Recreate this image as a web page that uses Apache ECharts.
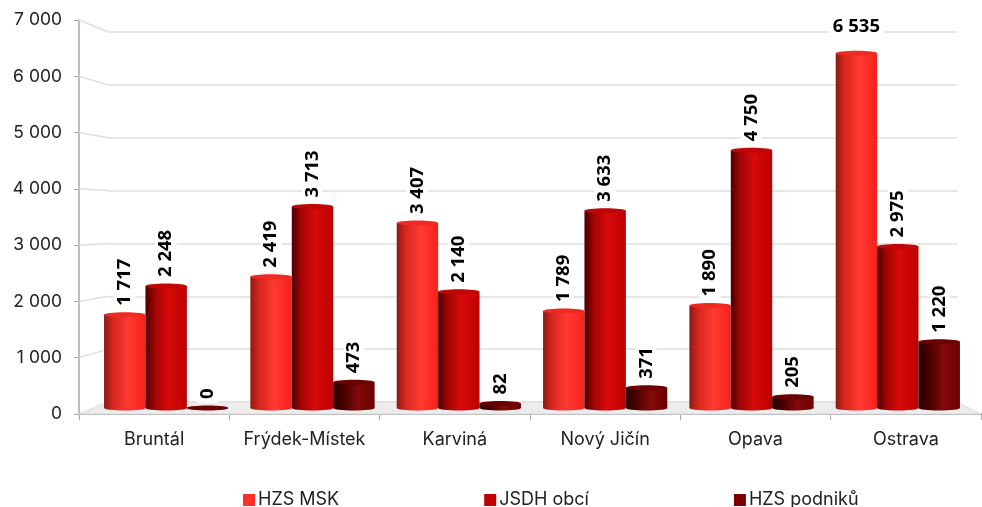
<!DOCTYPE html>
<html><head><meta charset="utf-8">
<style>html,body{margin:0;padding:0;background:#fff}#c{width:982px;height:507px}</style>
<script src="https://cdn.jsdelivr.net/npm/echarts@6/dist/echarts.min.js"></script>
</head><body><div id="c"></div>
<script>
const categories = ['Bruntál','Frýdek-Místek','Karviná','Nový Jičín','Opava','Ostrava'];
const hzsMsk = [1717,2419,3407,1789,1890,6535];
const jsdhObci = [2248,3713,2140,3633,4750,2975];
const hzsPodniku = [0,473,82,371,205,1220];
const yTicks = [0,1000,2000,3000,4000,5000,6000,7000];
const seriesNames = ['HZS MSK','JSDH obcí','HZS podniků'];
const legendColors = ['#ff3028','#c00000','#7a0000'];
const capColors = ['#f02a22','#c00606','#6a0202'];
const FONT = 'Inter, "Open Sans", sans-serif';
const BOLD = '"Open Sans", Inter, sans-serif';
const fmt = v => String(v).replace(/\B(?=(\d{3})+$)/g,' ');
const grad = stops => ({type:'linear',x:0,y:0,x2:1,y2:0,colorStops:stops.map(s=>({offset:s[0],color:s[1]}))});
const grads = [
  grad([[0,'#8a1a14'],[0.2,'#d4261e'],[0.58,'#ff3a32'],[1,'#f8201a']]),
  grad([[0,'#4a0000'],[0.22,'#a00404'],[0.55,'#d80a0a'],[1,'#bc0000']]),
  grad([[0,'#280000'],[0.25,'#480000'],[0.6,'#820a0a'],[1,'#6e0000']])
];
const chart = echarts.init(document.getElementById('c'),null,{renderer:'canvas'});
const all = [hzsMsk,jsdhObci,hzsPodniku];
function depthItem(params,api){
  const r = params.coordSys;
  const v = api.value(1);
  const fy = api.coord([0,v])[1];
  const fx = r.x, bx = r.x+29, rx = r.x+r.width, brx = rx-24;
  const by = 402-(414-fy)*370/394;
  const kids = [];
  if(v===0){
    kids.push({type:'polygon',shape:{points:[[fx,fy],[bx,by],[brx,by],[rx,fy]]},style:{fill:'#ececec',stroke:'#dcdcdc',lineWidth:1}});
  } else {
    kids.push({type:'line',shape:{x1:fx,y1:fy,x2:bx,y2:by},style:{stroke:'#dedede',lineWidth:1.5}});
  }
  return {type:'group',children:kids};
}
const bars = all.map((d,i)=>({
  name:seriesNames[i],type:'bar',xAxisIndex:2,yAxisIndex:2,z:5,
  barWidth:'28.3%',barGap:0,
  itemStyle:{color:grads[i]},
  data:d.map((v,k)=>({value:v,label:(v===6535?{rotate:0,distance:16,align:'center',verticalAlign:'bottom'}:{})})),
  label:{show:true,position:'top',rotate:90,distance:5,align:'left',verticalAlign:'middle',
    formatter:p=>fmt(p.value),fontFamily:BOLD,fontWeight:'bold',fontSize:18.5,color:'#000',
    backgroundColor:'#fff',padding:[1,4]}
}));
const caps = all.map((d,i)=>({
  name:'cap'+i,type:'custom',xAxisIndex:2,yAxisIndex:2,z:6,silent:true,
  data:d.map((v,k)=>[k,v]),
  renderItem(params,api){
    const p = api.coord([api.value(0),api.value(1)]);
    const b = api.coord([api.value(0),0]);
    const w = api.size([1,0])[0]*0.283;
    const cx = p[0]+(i-1)*w;
    return {type:'group',children:[
      {type:'ellipse',shape:{cx:cx,cy:b[1],rx:w/2,ry:2.5},style:{fill:api.value(1)===0?capColors[i]:grads[i]}},
      {type:'ellipse',shape:{cx:cx,cy:p[1],rx:w/2,ry:api.value(1)===0?2:2.5},style:{fill:capColors[i]}}
    ]};
  }
}));
chart.setOption({
  animation:false,backgroundColor:'#fff',
  legend:{left:238,top:486,itemGap:145,itemWidth:12,itemHeight:12,icon:'rect',
    textStyle:{fontFamily:FONT,fontSize:18,color:'#222',padding:[0,0,0,-2]},
    data:seriesNames.map((n,i)=>({name:n,itemStyle:{color:legendColors[i]}}))},
  grid:[
    {left:79,right:1,top:20,height:394},
    {left:108,right:25,top:32,height:370},
    {left:93,width:878,top:28,height:380}
  ],
  xAxis:[
    {type:'category',gridIndex:0,data:categories,
     axisLine:{lineStyle:{color:'#a8a8a8',width:2}},axisTick:{show:true,length:6,lineStyle:{color:'#a8a8a8'}},
     axisLabel:{interval:0,fontFamily:FONT,fontSize:18,color:'#222',margin:17}},
    {type:'category',gridIndex:1,data:categories,show:false},
    {type:'category',gridIndex:2,data:categories,show:false}
  ],
  yAxis:[
    {type:'value',gridIndex:0,min:0,max:7000,interval:1000,
     axisLine:{show:true,lineStyle:{color:'#a8a8a8',width:1.5}},axisTick:{show:true,length:5,lineStyle:{color:'#a8a8a8'}},
     splitLine:{show:false},
     axisLabel:{fontFamily:FONT,fontSize:17.5,color:'#222',margin:17,formatter:v=>fmt(v)}},
    {type:'value',gridIndex:1,min:0,max:7000,interval:1000,
     axisLine:{show:false},axisTick:{show:false},axisLabel:{show:false},
     splitLine:{show:true,lineStyle:{color:'#dedede',width:1.5}}},
    {type:'value',gridIndex:2,min:0,max:7000,interval:1000,show:false,splitLine:{show:false}}
  ],
  series:[
    {name:'depth',type:'custom',xAxisIndex:0,yAxisIndex:0,z:1,silent:true,
     data:yTicks.map(v=>[0,v]),renderItem:depthItem},
    ...bars,...caps
  ]
});
</script></body></html>
